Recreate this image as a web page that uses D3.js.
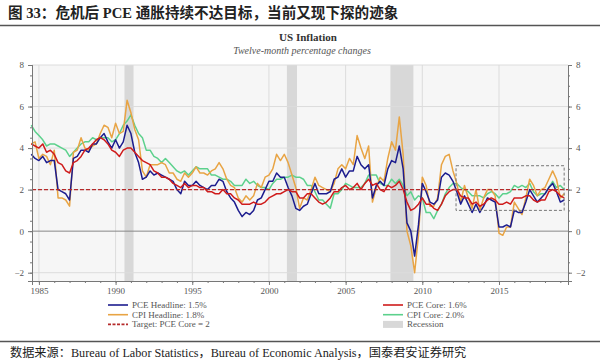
<!DOCTYPE html>
<html>
<head>
<meta charset="utf-8">
<script src="https://cdn.jsdelivr.net/npm/d3@7"></script>
<style>
  body { margin: 0; background: #fff; }
  svg { display: block; }
</style>
</head>
<body>
<svg width="600" height="363"></svg>
<script>
// quarterly 12-month % changes, first point 1984 Q3
const startYear = 1984.5
const step = 0.25

const pceHeadline = [
  3.7, 3.5,
  3.4, 3.6, 3.3, 3.4,   3.4, 2.0, 1.9, 1.8,   1.5, 3.5, 3.6, 3.9,   3.9, 3.8, 4.2, 4.2,
  4.5, 4.7, 4.3, 4.0,   4.4, 4.0, 4.3, 5.1,   4.7, 3.8, 3.3, 2.5,   2.6, 2.9, 2.7, 2.8,
  2.7, 2.6, 2.5, 2.4,   2.0, 1.8, 2.4, 2.2,   2.2, 2.4, 2.2, 2.1,   2.0, 2.2, 2.2, 2.5,
  2.4, 1.9, 1.6, 1.4,   1.0, 0.7, 0.9, 0.8,   1.0, 1.5, 1.6, 2.0,   2.4, 2.4, 2.8, 2.6,
  2.6, 2.1, 1.7, 1.1,   1.0, 1.2, 1.3, 1.8,   2.3, 1.8, 1.8, 1.8,   1.9, 2.5, 2.6, 3.0,
  2.6, 2.9, 2.9, 3.6,   3.2, 3.0, 3.2, 1.6,   2.2, 2.4, 2.2, 3.0,   3.4, 3.3, 4.1, 3.0,
  0.4, 0.0, -1.2, 0.3,  2.3, 1.9, 1.4, 1.3,   1.5, 2.6, 2.8, 2.7,   2.4, 1.9, 1.3, 1.7,
  1.3, 0.9, 1.3, 0.9,   1.2, 1.6, 1.5, 1.4,   0.2, 0.2, 0.3, 0.2,   1.0, 0.9, 0.9, 1.4,
  2.0, 1.7, 1.4, 1.6,   1.8, 2.1, 2.3, 1.9,
  1.4, 1.5
]
const cpiHeadline = [
  4.2, 4.3,
  3.5, 3.7, 3.6, 3.2,   3.9, 1.6, 1.6, 1.5,   1.2, 3.8, 3.9, 4.5,   4.0, 3.9, 4.1, 4.2,
  4.7, 5.1, 5.0, 4.5,   5.2, 4.7, 4.8, 6.3,   5.7, 4.9, 4.4, 2.9,   2.6, 3.2, 3.2, 3.2,
  3.3, 3.2, 2.8, 2.8,   2.5, 2.4, 2.8, 2.6,   2.8, 3.1, 2.8, 2.8,   2.7, 2.9, 3.0, 3.3,
  3.0, 2.5, 2.2, 2.1,   1.6, 1.4, 1.7, 1.5,   1.7, 2.3, 2.1, 2.6,   2.7, 3.0, 3.7, 3.4,
  3.7, 3.3, 2.7, 2.1,   1.1, 1.6, 1.5, 2.0,   2.6, 2.2, 2.1, 2.0,   1.9, 2.3, 3.0, 3.2,
  3.0, 3.5, 3.2, 4.6,   4.0, 3.5, 4.1, 1.4,   2.1, 2.6, 2.4, 3.5,   4.3, 3.9, 5.5, 3.7,
  0.0, -0.7, -2.0, -0.2, 2.6, 2.2, 1.2, 1.2,  1.6, 3.2, 3.6, 3.7,   2.9, 2.3, 1.4, 2.2,
  1.6, 1.1, 2.0, 1.0,   1.6, 2.0, 2.0, 1.7,   -0.1, -0.2, 0.2, 0.2, 1.4, 1.1, 0.8, 1.6,
  2.5, 2.2, 1.7, 2.0,   2.1, 2.5, 2.9, 2.5,
  1.6, 1.8
]
const pceCore = [
  4.2, 4.1,
  4.0, 4.2, 3.8, 3.9,   3.7, 3.3, 3.2, 2.9,   2.8, 3.3, 3.4, 3.6,   3.9, 4.0, 4.2, 4.4,
  4.5, 4.4, 4.2, 3.9,   3.8, 3.6, 3.9, 4.0,   4.0, 3.8, 3.6, 3.4,   3.3, 3.2, 2.9, 2.8,
  2.6, 2.6, 2.5, 2.3,   2.2, 2.1, 2.3, 2.1,   2.2, 2.2, 2.1, 2.1,   1.9, 1.9, 1.8, 1.8,
  2.0, 1.8, 1.8, 1.6,   1.5, 1.3, 1.3, 1.3,   1.4, 1.3, 1.3, 1.4,   1.6, 1.7, 1.8, 1.8,
  1.9, 2.0, 1.9, 1.9,   1.6, 1.6, 1.8, 1.8,   1.6, 1.4, 1.3, 1.4,   1.6, 1.9, 1.9, 2.1,
  2.2, 2.0, 2.1, 2.3,   2.0, 2.3, 2.5, 2.2,   2.3, 2.0, 1.9, 2.2,   2.1, 2.2, 2.4, 2.0,
  1.4, 1.0, 1.1, 1.3,   1.6, 1.3, 1.3, 1.1,   1.0, 1.3, 1.7, 1.9,   2.0, 2.0, 1.7, 1.6,
  1.6, 1.3, 1.4, 1.2,   1.3, 1.5, 1.6, 1.5,   1.3, 1.3, 1.4, 1.3,   1.6, 1.6, 1.6, 1.7,
  1.7, 1.5, 1.4, 1.5,   1.5, 1.9, 2.0, 1.9,
  1.7, 1.6
]
const cpiCore = [
  5.1, 4.8,
  4.6, 4.4, 4.1, 4.2,   4.2, 4.1, 4.0, 3.9,   3.6, 3.8, 4.0, 4.2,   4.3, 4.3, 4.5, 4.4,
  4.5, 4.5, 4.5, 4.3,   4.4, 4.7, 5.1, 5.3,   5.6, 5.1, 4.7, 4.5,   3.9, 3.9, 3.6, 3.5,
  3.3, 3.5, 3.3, 3.1,   2.9, 2.8, 2.9, 2.7,   2.9, 3.1, 3.0, 3.0,   3.0, 2.7, 2.7, 2.6,
  2.5, 2.5, 2.4, 2.2,   2.2, 2.2, 2.5, 2.3,   2.4, 2.2, 2.1, 2.1,   2.0, 2.3, 2.5, 2.5,
  2.6, 2.6, 2.7, 2.6,   2.6, 2.5, 2.2, 2.2,   1.9, 1.5, 1.5, 1.3,   1.1, 1.8, 1.8, 2.0,
  2.3, 2.2, 2.1, 2.1,   2.1, 2.3, 2.7, 2.7,   2.7, 2.3, 2.2, 2.2,   2.5, 2.3, 2.5, 2.2,
  1.7, 1.9, 1.5, 1.7,   1.6, 0.9, 0.9, 0.6,   1.0, 1.3, 1.8, 2.1,   2.3, 2.3, 2.1, 2.0,
  1.9, 1.7, 1.7, 1.7,   1.6, 1.8, 1.9, 1.8,   1.6, 1.8, 1.8, 1.9,   2.2, 2.1, 2.2, 2.1,
  2.3, 1.9, 1.7, 1.8,   1.8, 2.1, 2.4, 2.1,
  2.2, 2.0
]

const recessions = [[1990.58, 1991.17], [2001.17, 2001.83], [2007.92, 2009.42]]
const target = 2
const focusBox = { from: 2012.2, to: 2019.25, low: 1.0, high: 3.15 }

const yearTicks = [1985, 1990, 1995, 2000, 2005, 2010, 2015]
const valueTicks = [-2, 0, 2, 4, 6, 8]

const seriesNames = ["PCE Headline: 1.5%", "CPI Headline: 1.8%", "PCE Core: 1.6%", "CPI Core: 2.0%"]
const targetName = "Target: PCE Core = 2"
const recessionName = "Recession"

const colors = { pce: "#1c1c8e", cpi: "#e8a444", pceCore: "#cf1b1b", cpiCore: "#5cd18c" }

const svg = d3.select("svg")
const plotLeft = 32, plotRight = 568, plotTop = 65, plotBottom = 281

const x = d3.scaleLinear().domain([1984.55, 2019.5]).range([plotLeft, plotRight])
const y = d3.scaleLinear().domain([-2.4, 8]).range([plotBottom, plotTop])

const serif = "'Liberation Serif', 'Times New Roman', serif"
const cjk = "'Liberation Serif', 'Noto Sans CJK SC', serif"

// header
svg.append("text").attr("x", 8).attr("y", 18)
  .attr("font-family", cjk).attr("font-weight", "bold").attr("font-size", 14.6)
  .attr("fill", "#222")
  .text("图 33：危机后 PCE 通胀持续不达目标，当前又现下探的迹象")
svg.append("line").attr("x1", 0).attr("x2", 600).attr("y1", 25.5).attr("y2", 25.5)
  .attr("stroke", "#555").attr("stroke-width", 1.5)

svg.append("text").attr("x", 308).attr("y", 41).attr("text-anchor", "middle")
  .attr("font-family", serif).attr("font-weight", "bold").attr("font-size", 11)
  .attr("fill", "#333").text("US Inflation")
svg.append("text").attr("x", 302).attr("y", 54).attr("text-anchor", "middle")
  .attr("font-family", serif).attr("font-style", "italic").attr("font-size", 10)
  .attr("fill", "#555").text("Twelve-month percentage changes")

// plot area
svg.append("rect").attr("x", plotLeft).attr("y", plotTop)
  .attr("width", plotRight - plotLeft).attr("height", plotBottom - plotTop).attr("fill", "#f6f6f6")

svg.append("g").selectAll("rect").data(recessions).enter().append("rect")
  .attr("x", d => x(d[0])).attr("width", d => x(d[1]) - x(d[0]))
  .attr("y", plotTop).attr("height", plotBottom - plotTop).attr("fill", "#d8d8d8")

svg.append("g").selectAll("line").data(yearTicks).enter().append("line")
  .attr("x1", d => x(d)).attr("x2", d => x(d)).attr("y1", plotTop).attr("y2", plotBottom)
  .attr("stroke", "#dcdcdc").attr("stroke-width", 1)
svg.append("g").selectAll("line").data(valueTicks.filter(v => v != 0)).enter().append("line")
  .attr("x1", plotLeft).attr("x2", plotRight).attr("y1", d => y(d)).attr("y2", d => y(d))
  .attr("stroke", "#dcdcdc").attr("stroke-width", 1)
svg.append("line").attr("x1", plotLeft).attr("x2", plotRight).attr("y1", y(0)).attr("y2", y(0))
  .attr("stroke", "#888").attr("stroke-width", 1)

// series
const line = d3.line().x((d, i) => x(startYear + i * step)).y(d => y(d))
const drawOrder = [[cpiCore, colors.cpiCore], [cpiHeadline, colors.cpi], [pceHeadline, colors.pce], [pceCore, colors.pceCore]]
drawOrder.forEach(function(s) {
  svg.append("path").datum(s[0])
    .attr("d", line).attr("fill", "none")
    .attr("stroke", s[1]).attr("stroke-width", 1.5).attr("stroke-linejoin", "round")
})

svg.append("line").attr("x1", plotLeft).attr("x2", plotRight).attr("y1", y(target)).attr("y2", y(target))
  .attr("stroke", "#b52a2a").attr("stroke-width", 1.3).attr("stroke-dasharray", "4,2")

svg.append("rect")
  .attr("x", x(focusBox.from)).attr("y", y(focusBox.high))
  .attr("width", x(focusBox.to) - x(focusBox.from)).attr("height", y(focusBox.low) - y(focusBox.high))
  .attr("fill", "none").attr("stroke", "#777").attr("stroke-width", 1).attr("stroke-dasharray", "3,2")

// axes
function styleAxis(g) {
  g.selectAll("path, line").attr("stroke", "#777")
  g.selectAll("text").attr("font-family", serif).attr("font-size", 9).attr("fill", "#555")
}
const minorY = d3.range(-2, 8.01, 0.5)
const minorX = d3.range(1985, 2020, 1)

svg.append("g").attr("transform", `translate(${plotLeft},0)`)
  .call(d3.axisLeft(y).tickValues(minorY).tickSize(2).tickFormat(""))
  .call(styleAxis)
svg.append("g").attr("transform", `translate(${plotLeft},0)`)
  .call(d3.axisLeft(y).tickValues(valueTicks).tickSize(4).tickPadding(4).tickFormat(d3.format("d")))
  .call(styleAxis)
svg.append("g").attr("transform", `translate(${plotRight},0)`)
  .call(d3.axisRight(y).tickValues(minorY).tickSize(2).tickFormat(""))
  .call(styleAxis)
svg.append("g").attr("transform", `translate(${plotRight},0)`)
  .call(d3.axisRight(y).tickValues(valueTicks).tickSize(4).tickPadding(4).tickFormat(d3.format("d")))
  .call(styleAxis)
svg.append("g").attr("transform", `translate(0,${plotBottom})`)
  .call(d3.axisBottom(x).tickValues(minorX).tickSize(2).tickFormat(""))
  .call(styleAxis)
svg.append("g").attr("transform", `translate(0,${plotBottom})`)
  .call(d3.axisBottom(x).tickValues(yearTicks).tickSize(4).tickPadding(3).tickFormat(d3.format("d")))
  .call(styleAxis)

// legend
const legendLeft = [
  { label: seriesNames[0], color: colors.pce },
  { label: seriesNames[1], color: colors.cpi },
  { label: targetName, color: "#b52a2a", dash: "3,1.5" }
]
const legendRight = [
  { label: seriesNames[2], color: colors.pceCore },
  { label: seriesNames[3], color: colors.cpiCore },
  { label: recessionName, swatch: true }
]
function drawLegend(items, lx) {
  const g = svg.append("g")
  items.forEach(function(it, i) {
    const ly = 305 + i * 9.7
    if (it.swatch) {
      g.append("rect").attr("x", lx).attr("y", ly - 3.5).attr("width", 20).attr("height", 7).attr("fill", "#d8d8d8")
    } else {
      g.append("line").attr("x1", lx).attr("x2", lx + 20).attr("y1", ly).attr("y2", ly)
        .attr("stroke", it.color).attr("stroke-width", 1.6)
        .attr("stroke-dasharray", it.dash || null)
    }
    g.append("text").attr("x", lx + 24).attr("y", ly + 3)
      .attr("font-family", serif).attr("font-size", 9).attr("fill", "#555").text(it.label)
  })
}
drawLegend(legendLeft, 108)
drawLegend(legendRight, 383)

// footer
svg.append("line").attr("x1", 0).attr("x2", 600).attr("y1", 341.5).attr("y2", 341.5)
  .attr("stroke", "#555").attr("stroke-width", 1.5)
svg.append("text").attr("x", 10).attr("y", 357)
  .attr("font-family", cjk).attr("font-size", 12.2).attr("fill", "#222")
  .text("数据来源：Bureau of Labor Statistics，Bureau of Economic Analysis，国泰君安证券研究")
</script>
</body>
</html>
